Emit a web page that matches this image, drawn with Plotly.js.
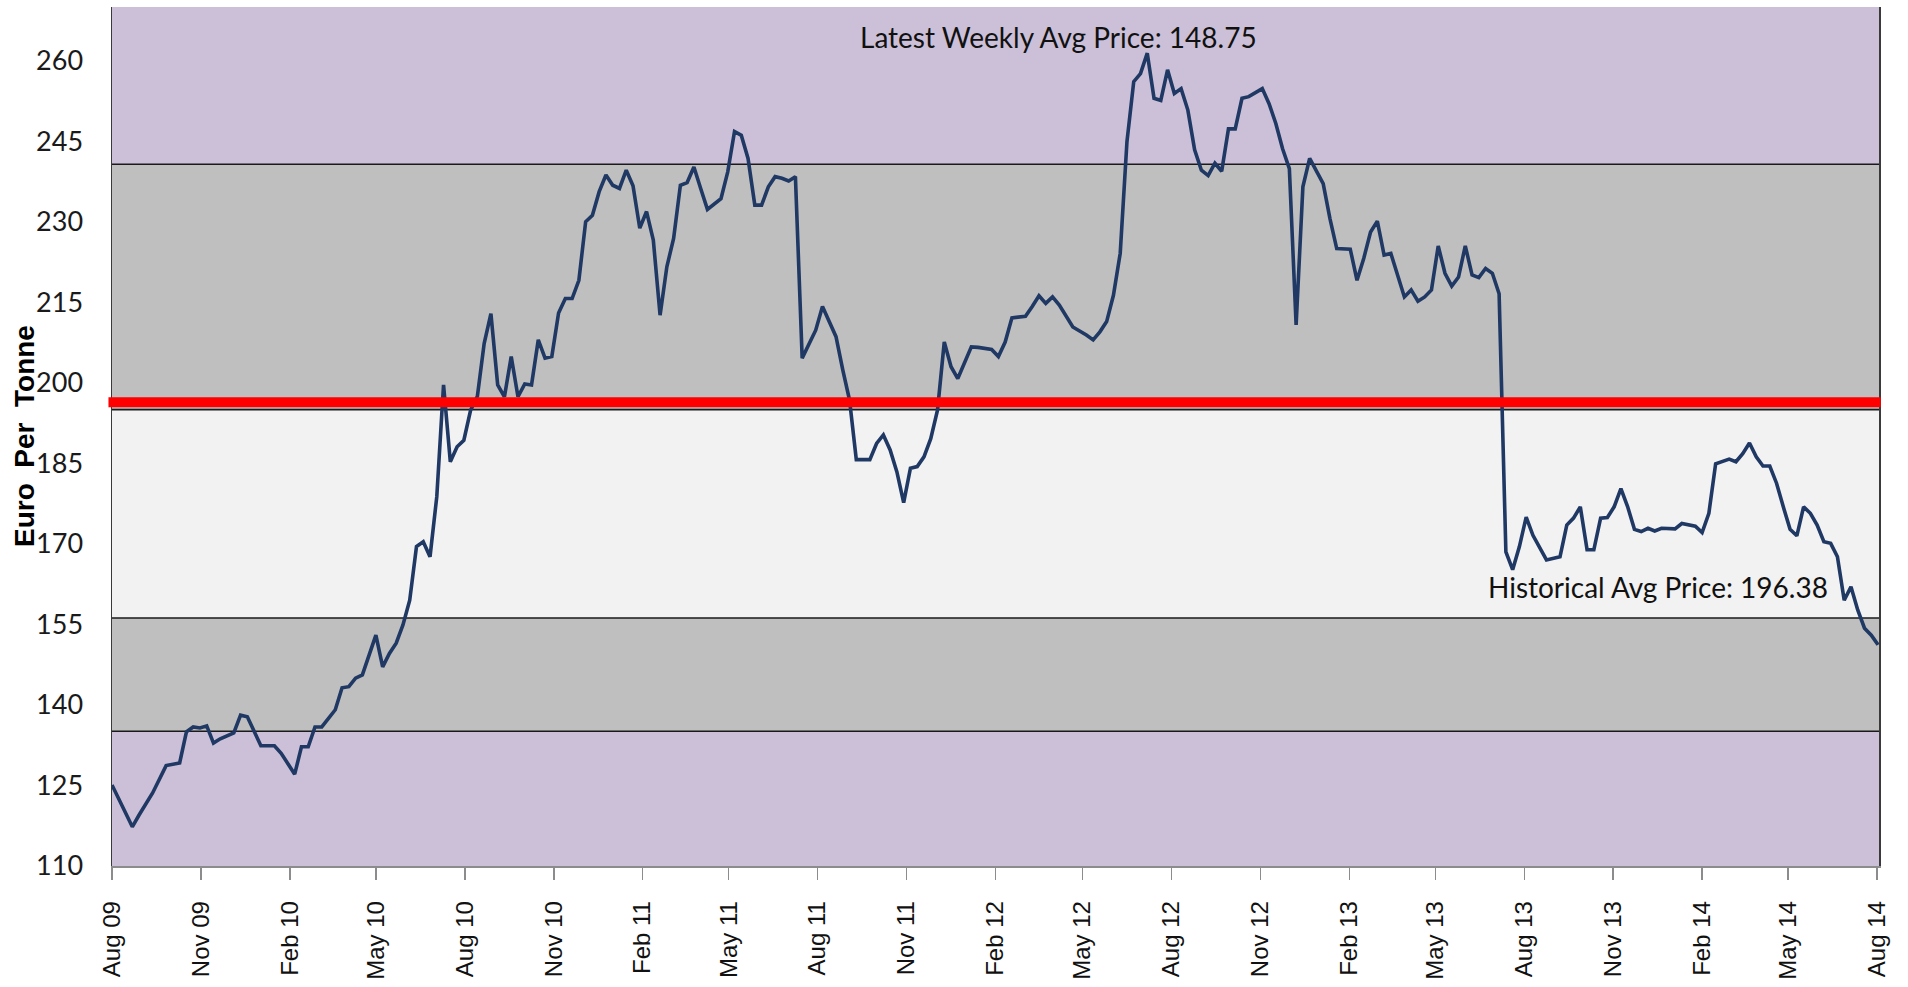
<!DOCTYPE html>
<html>
<head>
<meta charset="utf-8">
<script src="https://cdn.plot.ly/plotly-3.0.1.min.js"></script>
<style>
  html, body { margin: 0; padding: 0; background: #ffffff; }
  #chart { width: 1908px; height: 987px; }
</style>
</head>
<body>
<div id="chart"></div>
<script>
// ---- Data (weekly average price, EUR/tonne) ----
const dates = [
  '2009-08-01','2009-08-22','2009-08-29','2009-09-12','2009-09-26','2009-10-10','2009-10-17','2009-10-24','2009-10-31','2009-11-07',
  '2009-11-14','2009-11-21','2009-12-05','2009-12-12','2009-12-19','2010-01-02','2010-01-16','2010-01-23','2010-02-06','2010-02-13',
  '2010-02-20','2010-02-27','2010-03-06','2010-03-20','2010-03-27','2010-04-03','2010-04-10','2010-04-17','2010-05-01','2010-05-08',
  '2010-05-15','2010-05-22','2010-05-29','2010-06-05','2010-06-12','2010-06-19','2010-06-26','2010-07-03','2010-07-10','2010-07-17',
  '2010-07-24','2010-07-31','2010-08-07','2010-08-14','2010-08-21','2010-08-28','2010-09-04','2010-09-11','2010-09-18','2010-09-25',
  '2010-10-02','2010-10-09','2010-10-16','2010-10-23','2010-10-30','2010-11-06','2010-11-13','2010-11-20','2010-11-27','2010-12-04',
  '2010-12-11','2010-12-18','2010-12-25','2011-01-01','2011-01-08','2011-01-15','2011-01-22','2011-01-29','2011-02-05','2011-02-12',
  '2011-02-19','2011-02-26','2011-03-05','2011-03-12','2011-03-19','2011-03-26','2011-04-02','2011-04-09','2011-04-23','2011-04-30',
  '2011-05-07','2011-05-14','2011-05-21','2011-05-28','2011-06-04','2011-06-11','2011-06-18','2011-06-25','2011-07-02','2011-07-09',
  '2011-07-16','2011-07-23','2011-07-30','2011-08-06','2011-08-13','2011-08-20','2011-08-27','2011-09-03','2011-09-10','2011-09-24',
  '2011-10-01','2011-10-08','2011-10-15','2011-10-22','2011-10-29','2011-11-05','2011-11-12','2011-11-19','2011-11-26','2011-12-03',
  '2011-12-10','2011-12-17','2011-12-24','2011-12-31','2012-01-07','2012-01-14','2012-01-28','2012-02-04','2012-02-11','2012-02-18',
  '2012-03-03','2012-03-10','2012-03-17','2012-03-24','2012-03-31','2012-04-07','2012-04-14','2012-04-21','2012-05-05','2012-05-12',
  '2012-05-19','2012-05-26','2012-06-02','2012-06-09','2012-06-16','2012-06-23','2012-06-30','2012-07-07','2012-07-14','2012-07-21',
  '2012-07-28','2012-08-04','2012-08-11','2012-08-18','2012-08-25','2012-09-01','2012-09-08','2012-09-15','2012-09-22','2012-09-29',
  '2012-10-06','2012-10-13','2012-10-20','2012-11-03','2012-11-10','2012-11-17','2012-11-24','2012-12-01','2012-12-08','2012-12-15',
  '2012-12-22','2012-12-29','2013-01-05','2013-01-12','2013-01-19','2013-02-02','2013-02-09','2013-02-16','2013-02-23','2013-03-02',
  '2013-03-09','2013-03-16','2013-03-23','2013-03-30','2013-04-06','2013-04-13','2013-04-20','2013-04-27','2013-05-04','2013-05-11',
  '2013-05-18','2013-05-25','2013-06-01','2013-06-08','2013-06-15','2013-06-22','2013-06-29','2013-07-06','2013-07-13','2013-07-20',
  '2013-07-27','2013-08-03','2013-08-10','2013-08-24','2013-09-07','2013-09-14','2013-09-21','2013-09-28','2013-10-05','2013-10-12',
  '2013-10-19','2013-10-26','2013-11-02','2013-11-09','2013-11-16','2013-11-23','2013-11-30','2013-12-07','2013-12-14','2013-12-21',
  '2014-01-04','2014-01-11','2014-01-25','2014-02-01','2014-02-08','2014-02-15','2014-03-01','2014-03-08','2014-03-15','2014-03-22',
  '2014-03-29','2014-04-05','2014-04-12','2014-04-19','2014-04-26','2014-05-03','2014-05-10','2014-05-17','2014-05-24','2014-05-31',
  '2014-06-07','2014-06-14','2014-06-21','2014-06-28','2014-07-05','2014-07-12','2014-07-19','2014-07-26','2014-08-02'
];
const prices = [
  125.1,117.3,119.5,123.6,128.7,129.2,135.0,135.9,135.7,136.1,
  132.9,133.7,134.8,138.1,137.8,132.4,132.4,131.0,127.1,132.2,
  132.2,135.9,135.9,139.1,143.2,143.4,145.0,145.6,153.0,147.1,
  149.6,151.5,154.9,159.5,169.5,170.4,167.6,178.8,199.6,185.3,
  188.1,189.3,194.9,197.5,207.3,212.9,199.6,197.4,204.9,197.4,
  199.8,199.6,208.0,204.6,204.9,213.0,215.7,215.7,219.1,230.0,
  231.2,235.6,238.7,236.8,236.2,239.6,236.7,228.8,231.9,226.6,
  212.6,221.6,226.9,236.8,237.3,240.2,236.2,232.3,234.3,239.3,
  246.8,246.1,241.8,233.1,233.1,236.5,238.4,238.1,237.6,238.4,
  204.6,207.3,209.8,214.2,211.4,208.6,202.4,196.8,185.7,185.7,
  188.7,190.3,187.5,183.4,177.7,184.1,184.4,186.2,189.6,194.9,
  207.6,203.0,200.8,203.9,206.7,206.6,206.2,204.9,207.6,212.1,
  212.4,214.2,216.2,214.8,216.0,214.5,212.3,210.4,208.9,208.0,
  209.5,211.4,216.3,224.1,244.9,256.1,257.6,261.4,253.0,252.6,
  258.3,253.9,254.8,250.8,243.4,239.6,238.6,240.9,239.4,247.3,
  247.3,253.0,253.3,254.8,252.0,248.3,243.6,239.9,210.8,236.5,
  241.8,239.3,237.1,230.6,225.0,224.9,219.1,223.2,228.1,230.1,
  223.8,224.1,220.1,216.0,217.3,215.2,216.0,217.3,225.5,220.4,
  218.0,219.7,225.5,220.1,219.6,221.3,220.4,216.6,168.5,165.2,
  169.5,175.0,171.6,167.0,167.6,173.5,174.8,176.9,168.9,168.9,
  174.8,174.9,176.9,180.3,176.9,172.7,172.3,172.9,172.4,172.9,
  172.8,173.8,173.3,172.1,175.7,184.9,185.8,185.3,186.8,188.8,
  186.2,184.5,184.5,181.3,176.9,172.7,171.5,176.9,175.7,173.5,
  170.4,170.1,167.6,159.5,162.0,157.7,154.3,153.0,151.2
];
// Band boundaries (EUR/tonne) read from the background zones
const bandEdges = [110, 135.1, 156.2, 195.0, 240.7, 270];
const historicalAvg = 196.38;
const latestWeeklyAvg = 148.75;
// Axis ticks
const yTicks = [110, 125, 140, 155, 170, 185, 200, 215, 230, 245, 260];
const xTickDates = [
  '2009-08-01','2009-11-01','2010-02-01','2010-05-01','2010-08-01','2010-11-01','2011-02-01',
  '2011-05-01','2011-08-01','2011-11-01','2012-02-01','2012-05-01','2012-08-01','2012-11-01',
  '2013-02-01','2013-05-01','2013-08-01','2013-11-01','2014-02-01','2014-05-01','2014-08-01'
];
const yTitle = 'Euro\u00a0\u00a0Per\u00a0\u00a0Tonne';
const latestLabel = 'Latest Weekly Avg Price: ' + latestWeeklyAvg.toFixed(2);
const histLabel = 'Historical Avg Price: ' + historicalAvg.toFixed(2);

// ---- Styling ----
const bandColors = ['#CBC0D8', '#BFBFBF', '#F2F2F2', '#BFBFBF', '#CBC0D8'];
const shapes = [];
for (let i = 0; i < bandColors.length; i++) {
  shapes.push({
    type: 'rect', xref: 'paper', yref: 'y', x0: 0, x1: 1,
    y0: bandEdges[i], y1: bandEdges[i + 1],
    fillcolor: bandColors[i], line: { width: 0 }, layer: 'below'
  });
}
for (let i = 1; i < bandEdges.length - 1; i++) {
  shapes.push({
    type: 'line', xref: 'paper', yref: 'y', x0: 0, x1: 1,
    y0: bandEdges[i], y1: bandEdges[i],
    line: { color: '#1a1a1a', width: 1.6 }, layer: 'below'
  });
}
shapes.push({
  type: 'line', xref: 'paper', yref: 'y', x0: -0.002, x1: 1.001,
  y0: historicalAvg, y1: historicalAvg,
  line: { color: '#FF0000', width: 10 }, layer: 'above'
});

const trace = {
  type: 'scatter', mode: 'lines', x: dates, y: prices,
  line: { color: '#1F3864', width: 3.6 },
  hoverinfo: 'x+y', showlegend: false
};

const calibriLike = 'Lato, Liberation Sans, Arial, sans-serif';
const layout = {
  width: 1908, height: 987,
  margin: { l: 112, r: 29, t: 7, b: 121 },
  paper_bgcolor: '#ffffff', plot_bgcolor: '#ffffff',
  showlegend: false,
  xaxis: {
    type: 'date', range: ['2009-08-01', '2014-08-03'],
    tickmode: 'array', tickvals: xTickDates, tickformat: '%b %y',
    tickangle: -90, ticks: 'outside', ticklen: 12, tickwidth: 1.5, tickcolor: '#8c8c8c',
    showline: true, linecolor: '#8c8c8c', linewidth: 1.5,
    showgrid: false, zeroline: false, ticklabelstandoff: 12,
    tickfont: { family: 'Liberation Sans, Arial, sans-serif', size: 24, color: '#111111' }
  },
  yaxis: {
    range: [110, 270], tickmode: 'array', tickvals: yTicks,
    ticks: '', showgrid: false, zeroline: false,
    showline: true, linecolor: '#3a3a3a', linewidth: 1.5, mirror: true,
    ticklabelstandoff: 22,
    tickfont: { family: calibriLike, size: 27, color: '#1a1a1a' }
  },
  shapes: shapes,
  annotations: [
    {
      text: yTitle, xref: 'paper', yref: 'paper', x: -0.0495, y: 0.5,
      xanchor: 'center', yanchor: 'middle', textangle: -90, showarrow: false,
      font: { family: 'Liberation Sans, Arial, sans-serif', size: 28, color: '#000000', weight: 'bold' }
    },
    {
      text: latestLabel, xref: 'paper', yref: 'paper', x: 0.5354, y: 0.965,
      xanchor: 'center', yanchor: 'middle', showarrow: false,
      font: { family: calibriLike, size: 28, color: '#111111' }
    },
    {
      text: histLabel, xref: 'paper', yref: 'paper', x: 0.875, y: 0.3248,
      xanchor: 'center', yanchor: 'middle', showarrow: false,
      font: { family: calibriLike, size: 28, color: '#111111' }
    }
  ]
};

Plotly.newPlot('chart', [trace], layout, { displayModeBar: false, staticPlot: true });
</script>
</body>
</html>
